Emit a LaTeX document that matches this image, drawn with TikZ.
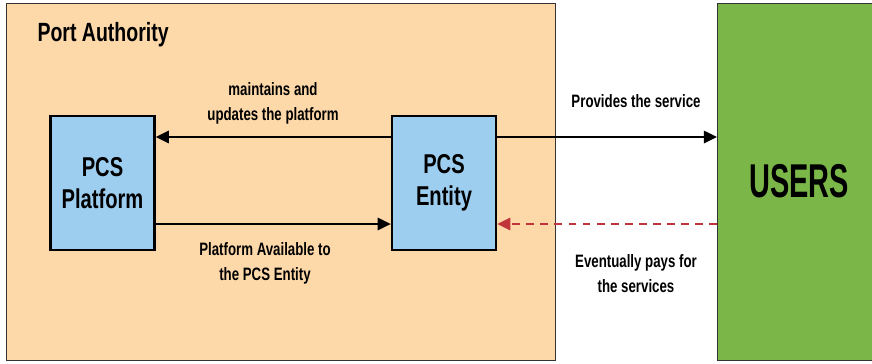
\documentclass[tikz,border=0pt]{standalone}
\usepackage{fontspec}
\setmainfont{Liberation Sans}[FakeStretch=0.74]
\newfontfamily\usersfont{Liberation Sans}[FakeStretch=0.61]
\usepackage{tikz}
\usetikzlibrary{arrows.meta}

\definecolor{portfill}{RGB}{253,216,169}
\definecolor{pcsfill}{RGB}{157,206,240}
\definecolor{userfill}{RGB}{122,182,72}
\definecolor{payred}{RGB}{192,52,60}

\begin{document}
\begin{tikzpicture}[>={Triangle[length=7.5pt,width=7pt]},thick,
  area/.style={draw=black!80,line width=0.8pt,anchor=south west,inner sep=0pt},
  pcsbox/.style={draw,fill=pcsfill,line width=1.3pt,minimum width=2.08cm,minimum height=2.68cm,align=center,font=\bfseries\fontsize{15.5}{18.5}\selectfont},
  lbl/.style={align=center,font=\bfseries\fontsize{10.2}{14.2}\selectfont},
  flow/.style={->,line width=1.2pt}]
\useasboundingbox (0,0) rectangle (17.44,7.26);
\clip (0,0) rectangle (17.44,7.26);
% areas
\node[area,fill=portfill,minimum width=10.98cm,minimum height=7.14cm] (port) at (0.12,0.04) {};
\node[area,fill=userfill,minimum width=3.5cm,minimum height=7.14cm] (users) at (14.34,0.04) {};
\node[anchor=west,font=\bfseries\fontsize{15}{18}\selectfont] (porttitle) at (0.62,6.56) {Port Authority};
\node[font=\usersfont\bfseries\fontsize{27}{30}\selectfont] (userstitle) at (15.98,3.64) {USERS};
% boxes
\node[pcsbox] (platform) at (2.05,3.6) {PCS\\Platform};
\node[pcsbox] (entity) at (8.88,3.6) {PCS\\Entity};
\coordinate (usrtop) at (14.34,4.52);
\coordinate (usrbot) at (14.34,2.78);
% flows
\draw[flow] (entity.west |- 0,4.52) -- (platform.east |- 0,4.52);
\draw[flow] (platform.east |- 0,2.78) -- (entity.west |- 0,2.78);
\draw[flow] (entity.east |- usrtop) -- (usrtop);
\draw[flow,payred,dash pattern=on 4.5pt off 3.5pt] (usrbot) -- (entity.east |- usrbot);
% labels
\node[lbl] (lblmaint) at (5.46,5.2) {maintains and\\updates the platform};
\node[lbl] (lblprov) at (12.72,5.24) {Provides the service};
\node[lbl] (lblavail) at (5.3,2.0) {Platform Available to\\the PCS Entity};
\node[lbl] (lblpays) at (12.72,1.78) {Eventually pays for\\the services};
\end{tikzpicture}
\end{document}
